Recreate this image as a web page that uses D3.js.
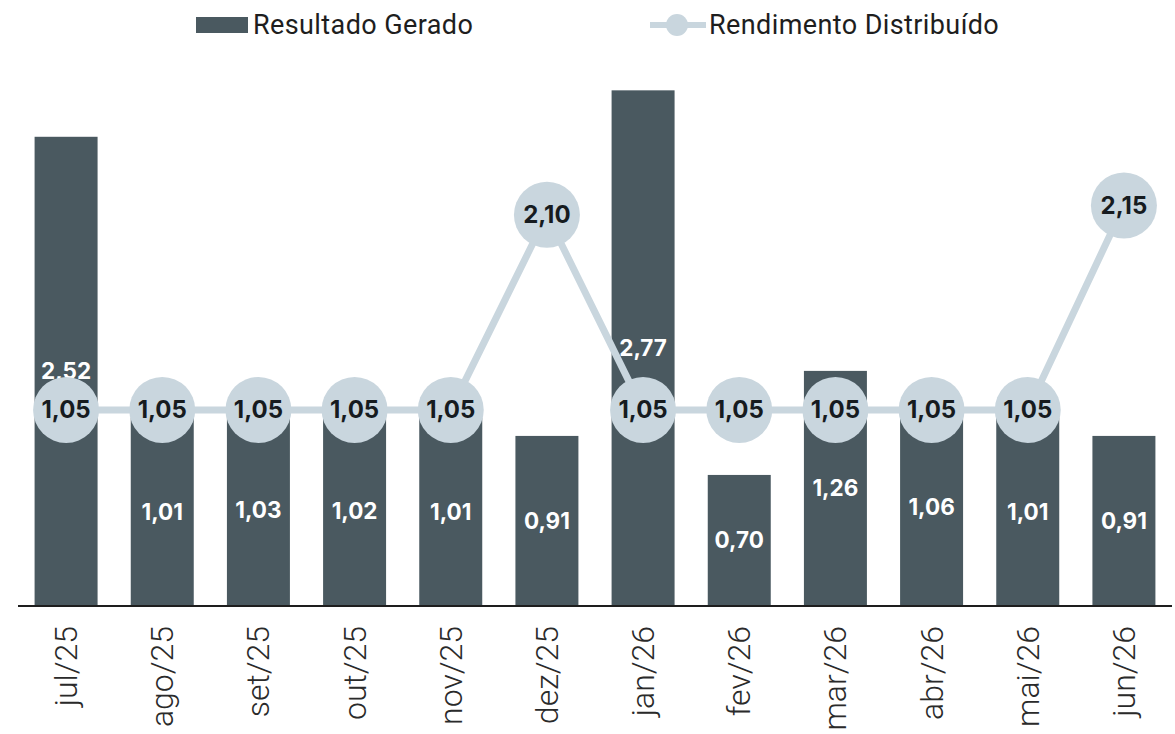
<!DOCTYPE html>
<html lang="en">
<head>
<meta charset="UTF-8">
<title>Resultado Gerado x Rendimento Distribuído</title>
<style>
  body { margin: 0; background: #fff; }
  svg { display: block; }
  .bar-label { font-family: Inter, sans-serif; font-weight: 700; font-size: 22.5px; fill: #fff; }
  .dot-label { font-family: Inter, sans-serif; font-weight: 700; font-size: 24px; fill: #161b1f; }
  .tick-label { font-family: Roboto, sans-serif; font-weight: 300; font-size: 32px; fill: #2a2a2a; }
  .legend { font-family: Roboto, sans-serif; font-size: 27px; letter-spacing: 0.4px; fill: #1e1e1e; }
</style>
</head>
<body>
<div id="chart"></div>
<script src="https://d3js.org/d3.v7.min.js"></script>
<script>
  // data
  const months = ["jul/25", "ago/25", "set/25", "out/25", "nov/25", "dez/25",
                  "jan/26", "fev/26", "mar/26", "abr/26", "mai/26", "jun/26"];
  const resultado = [2.52, 1.01, 1.03, 1.02, 1.01, 0.91, 2.77, 0.70, 1.26, 1.06, 1.01, 0.91];
  const rendimento = [1.05, 1.05, 1.05, 1.05, 1.05, 2.10, 1.05, 1.05, 1.05, 1.05, 1.05, 2.15];

  const W = 1175, H = 734;
  const barColor = "#4a5960", lineColor = "#c9d6de";
  const fmt = v => v.toFixed(2).replace(".", ",");

  const svg = d3.select("#chart").append("svg")
      .attr("width", W).attr("height", H);

  const x = d3.scaleBand().domain(months).range([18, 1172])
      .paddingInner(0.345).paddingOuter(0.1725);
  const y = d3.scaleLinear().domain([0, 3]).range([605, 605 - 3 * 185.8]);

  // bars
  svg.append("g").selectAll("rect")
    .data(resultado)
    .join("rect")
      .attr("x", (d, i) => x(months[i]))
      .attr("y", d => y(d))
      .attr("width", x.bandwidth())
      .attr("height", d => y(0) - y(d))
      .attr("fill", barColor);

  svg.append("g").selectAll("text")
    .data(resultado)
    .join("text")
      .attr("class", "bar-label")
      .attr("x", (d, i) => x(months[i]) + x.bandwidth() / 2)
      .attr("y", d => (y(d) + y(0)) / 2)
      .attr("text-anchor", "middle")
      .attr("dominant-baseline", "central")
      .text(fmt);

  // baseline
  svg.append("line")
      .attr("x1", 18).attr("x2", 1172)
      .attr("y1", y(0) + 1).attr("y2", y(0) + 1)
      .attr("stroke", "#1e1e1e").attr("stroke-width", 2);

  // x labels, rotated
  svg.append("g").selectAll("text")
    .data(months)
    .join("text")
      .attr("class", "tick-label")
      .attr("transform", d => `translate(${x(d) + x.bandwidth() / 2 + 11},626) rotate(-90)`)
      .attr("text-anchor", "end")
      .text(d => d);

  // line series
  const cx = (d, i) => x(months[i]) + x.bandwidth() / 2;
  svg.append("path")
      .datum(rendimento)
      .attr("fill", "none")
      .attr("stroke", lineColor)
      .attr("stroke-width", 7)
      .attr("d", d3.line().x(cx).y(d => y(d)));

  svg.append("g").selectAll("circle")
    .data(rendimento)
    .join("circle")
      .attr("cx", cx)
      .attr("cy", d => y(d))
      .attr("r", 33)
      .attr("fill", lineColor);

  svg.append("g").selectAll("text")
    .data(rendimento)
    .join("text")
      .attr("class", "dot-label")
      .attr("x", cx)
      .attr("y", d => y(d))
      .attr("text-anchor", "middle")
      .attr("dominant-baseline", "central")
      .text(fmt);

  // legend
  const lg = svg.append("g");
  lg.append("rect").attr("x", 196).attr("y", 17).attr("width", 52).attr("height", 16).attr("fill", barColor);
  lg.append("text").attr("class", "legend").attr("x", 253).attr("y", 34).text("Resultado Gerado");
  lg.append("line").attr("x1", 650).attr("x2", 706).attr("y1", 25).attr("y2", 25)
      .attr("stroke", lineColor).attr("stroke-width", 6);
  lg.append("circle").attr("cx", 677).attr("cy", 25).attr("r", 11).attr("fill", lineColor);
  lg.append("text").attr("class", "legend").attr("x", 709).attr("y", 34).text("Rendimento Distribuído");
</script>
</body>
</html>
